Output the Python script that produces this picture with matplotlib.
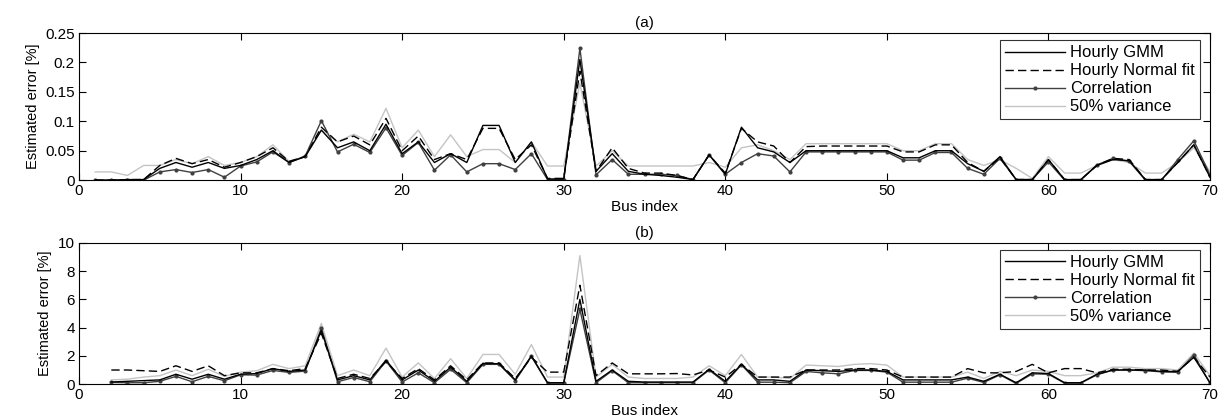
import numpy as np
import matplotlib.pyplot as plt

plt.rcParams['font.family'] = ['Liberation Sans', 'DejaVu Sans']

# (a) bus 1..70
bus_a = np.arange(1, 71)
gmm_a = [0, 0, 0.001, 0.001, 0.02, 0.03, 0.022, 0.03, 0.02, 0.025,
         0.035, 0.05, 0.03, 0.04, 0.085, 0.055, 0.065, 0.05, 0.095, 0.045,
         0.065, 0.03, 0.045, 0.03, 0.093, 0.093, 0.03, 0.065, 0.002, 0.002,
         0.205, 0.015, 0.045, 0.015, 0.01, 0.008, 0.005, 0.001, 0.043, 0.01,
         0.09, 0.055, 0.048, 0.03, 0.05, 0.05, 0.05, 0.05, 0.05, 0.05,
         0.038, 0.038, 0.05, 0.05, 0.028, 0.015, 0.04, 0.001, 0.001, 0.035,
         0.001, 0.001, 0.025, 0.035, 0.033, 0.001, 0.001, 0.03, 0.06, 0.005]
normal_a = [0, 0, 0.001, 0.001, 0.025, 0.037, 0.028, 0.035, 0.022, 0.03,
            0.04, 0.055, 0.032, 0.04, 0.09, 0.065, 0.075, 0.06, 0.105, 0.05,
            0.075, 0.035, 0.045, 0.035, 0.088, 0.088, 0.035, 0.06, 0.003, 0.003,
            0.185, 0.015, 0.055, 0.02, 0.012, 0.012, 0.008, 0.001, 0.043, 0.012,
            0.088, 0.065, 0.058, 0.03, 0.057, 0.058, 0.058, 0.058, 0.058, 0.058,
            0.048, 0.048, 0.06, 0.06, 0.03, 0.015, 0.038, 0.001, 0.001, 0.035,
            0.001, 0.001, 0.025, 0.037, 0.035, 0.001, 0.001, 0.03, 0.06, 0.005]
corr_a = [0, 0, 0, 0, 0.014, 0.018, 0.013, 0.018, 0.005, 0.024,
          0.031, 0.048, 0.03, 0.041, 0.101, 0.048, 0.061, 0.047, 0.089, 0.042,
          0.064, 0.017, 0.043, 0.014, 0.028, 0.028, 0.018, 0.045, 0.001, 0.001,
          0.224, 0.009, 0.035, 0.01, 0.01, 0.01, 0.008, 0.001, 0.043, 0.01,
          0.03, 0.045, 0.041, 0.014, 0.048, 0.048, 0.048, 0.048, 0.048, 0.048,
          0.034, 0.034, 0.047, 0.047, 0.02, 0.01, 0.037, 0.001, 0.001, 0.031,
          0, 0, 0.026, 0.037, 0.032, 0, 0, 0.035, 0.067, 0.009]
var_a = [0.014, 0.014, 0.008, 0.025, 0.025, 0.035, 0.028, 0.04, 0.025, 0.03,
         0.04, 0.06, 0.032, 0.04, 0.085, 0.065, 0.078, 0.065, 0.122, 0.055,
         0.085, 0.04, 0.077, 0.04, 0.052, 0.052, 0.03, 0.065, 0.024, 0.024,
         0.165, 0.024, 0.05, 0.024, 0.024, 0.024, 0.024, 0.024, 0.03, 0.022,
         0.055, 0.06, 0.05, 0.035, 0.062, 0.062, 0.062, 0.062, 0.062, 0.062,
         0.05, 0.05, 0.062, 0.062, 0.035, 0.025, 0.035, 0.02, 0.003, 0.04,
         0.012, 0.012, 0.025, 0.035, 0.03, 0.012, 0.012, 0.03, 0.055, 0.015]

# (b) bus 2..70
bus_b = np.arange(2, 71)
gmm_b = [0.15, 0.2, 0.25, 0.3, 0.7, 0.35, 0.7, 0.35, 0.7,
         0.75, 1.1, 0.9, 1.0, 3.8, 0.3, 0.6, 0.3, 1.7, 0.3,
         1.0, 0.2, 1.2, 0.2, 1.45, 1.45, 0.3, 2.0, 0.1, 0.1,
         6.0, 0.2, 1.0, 0.2, 0.15, 0.15, 0.15, 0.15, 1.05, 0.2,
         1.4, 0.3, 0.3, 0.2, 1.0, 0.95, 0.9, 1.0, 1.0, 0.9,
         0.3, 0.3, 0.3, 0.3, 0.5, 0.2, 0.7, 0.1, 0.8, 0.75,
         0.1, 0.1, 0.7, 1.0, 1.0, 1.0, 0.9, 0.9, 1.9, 0.1]
normal_b = [1.0, 1.0, 0.95, 0.9, 1.3, 0.9, 1.3, 0.6, 0.8,
            0.8, 1.1, 0.95, 1.1, 3.6, 0.4, 0.7, 0.4, 1.6, 0.4,
            1.1, 0.3, 1.3, 0.3, 1.5, 1.5, 0.4, 1.9, 0.85, 0.85,
            7.0, 0.6, 1.5, 0.73, 0.73, 0.73, 0.75, 0.65, 1.0, 0.5,
            1.4, 0.5, 0.5, 0.5, 1.0, 1.0, 1.0, 1.1, 1.1, 1.0,
            0.5, 0.5, 0.5, 0.5, 1.1, 0.8, 0.8, 0.9, 1.4, 0.8,
            1.1, 1.1, 0.8, 1.05, 1.05, 1.0, 1.0, 0.9, 1.9, 0.5]
corr_b = [0.12, 0.1, 0.1, 0.2, 0.55, 0.17, 0.55, 0.24, 0.66,
          0.64, 0.97, 0.83, 0.92, 3.97, 0.17, 0.47, 0.17, 1.63, 0.15,
          0.8, 0.1, 1.05, 0.1, 1.4, 1.4, 0.25, 1.96, 0.07, 0.07,
          5.3, 0.1, 0.95, 0.1, 0.1, 0.1, 0.1, 0.1, 1.0, 0.1,
          1.37, 0.14, 0.14, 0.1, 0.9, 0.8, 0.73, 0.97, 0.97, 0.85,
          0.14, 0.14, 0.14, 0.14, 0.42, 0.12, 0.66, 0.05, 0.73, 0.7,
          0.07, 0.07, 0.66, 1.0, 1.0, 0.95, 0.87, 0.83, 2.08, 0.05]
var_b = [0.3, 0.35, 0.5, 0.6, 1.0, 0.6, 1.05, 0.55, 0.85,
         0.95, 1.4, 1.1, 1.3, 4.3, 0.6, 1.0, 0.6, 2.55, 0.5,
         1.5, 0.4, 1.8, 0.4, 2.1, 2.1, 0.7, 2.8, 0.5, 0.5,
         9.1, 0.5, 1.4, 0.5, 0.4, 0.4, 0.4, 0.5, 1.3, 0.6,
         2.1, 0.5, 0.5, 0.4, 1.35, 1.3, 1.25, 1.4, 1.45, 1.35,
         0.5, 0.5, 0.5, 0.5, 0.85, 0.4, 0.9, 0.6, 1.0, 0.9,
         0.6, 0.6, 0.8, 1.2, 1.2, 1.1, 1.1, 1.0, 2.2, 0.6]

labels = ['Hourly GMM', 'Hourly Normal fit', 'Correlation', '50% variance']

fig = plt.figure(figsize=(12.21, 4.18), dpi=100)
ax1 = fig.add_axes([0.0647, 0.569, 0.9263, 0.352])
ax2 = fig.add_axes([0.0647, 0.081, 0.9263, 0.338])


def draw(ax, x, gmm, normal, corr, var, ymax, yticks, title):
    ax.plot(x, var, color='#c4c4c4', lw=1.0, label=labels[3])
    ax.plot(x, corr, color='#404040', lw=1.0, marker='.', ms=4, label=labels[2])
    ax.plot(x, normal, color='black', lw=1.0, ls=(0, (6, 3)), label=labels[1])
    ax.plot(x, gmm, color='black', lw=1.0, label=labels[0])
    ax.set_xlim(0, 70)
    ax.set_ylim(0, ymax)
    ax.set_xticks(range(0, 71, 10))
    ax.set_yticks(yticks)
    ax.set_yticklabels([('%g' % t) for t in yticks])
    ax.tick_params(direction='in', top=True, right=True, length=5, labelsize=11, pad=3)
    ax.set_xlabel('Bus index', fontsize=11, labelpad=1)
    ax.set_ylabel('Estimated error [%]', fontsize=10.5, labelpad=4)
    ax.set_title(title, fontsize=11, pad=4)
    h, l = ax.get_legend_handles_labels()
    order = [3, 2, 1, 0]
    leg = ax.legend([h[i] for i in order], [l[i] for i in order], loc='upper right',
                    bbox_to_anchor=(0.991, 0.95), prop={'size': 12}, frameon=True,
                    fancybox=False, edgecolor='black', handlelength=3.6,
                    labelspacing=0.18, borderpad=0.3, handletextpad=0.3,
                    borderaxespad=0)
    leg.get_frame().set_linewidth(0.8)
    for s in ax.spines.values():
        s.set_linewidth(0.8)


draw(ax1, bus_a, gmm_a, normal_a, corr_a, var_a, 0.25,
     [0, 0.05, 0.1, 0.15, 0.2, 0.25], '(a)')
draw(ax2, bus_b, gmm_b, normal_b, corr_b, var_b, 10,
     [0, 2, 4, 6, 8, 10], '(b)')

fig.savefig('out.png', dpi=100)
